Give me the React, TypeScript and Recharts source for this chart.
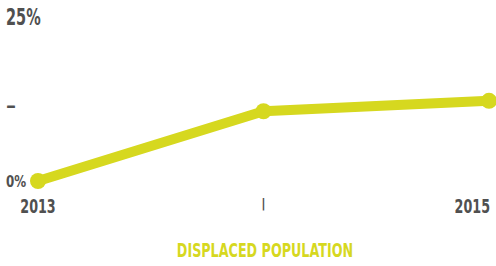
import React from "react";
import { LineChart, Line, XAxis, YAxis } from "recharts";

const years = [2013, 2014, 2015];
const yearLabels = ["2013", "|", "2015"];
const displacedPct = [0, 10.7, 12.3];
const yTicks = [0, 11.4, 25];
const yTickLabels = ["0%", "–", "25%"];
const title = "DISPLACED POPULATION";

const data = years.map((y, i) => ({ year: y, value: displacedPct[i] }));

const LIME = "#d6d81f";
const GREY = "#505050";
const FONT = "'DejaVu Sans', sans-serif";

const YTick = (props: any) => {
  const { y, payload } = props;
  const i = yTicks.indexOf(payload.value);
  const label = yTickLabels[i];
  let size = 16.5, sx = 0.72, dy = 6;
  if (label === "25%") { size = 23; sx = 0.63; dy = 7; }
  if (label === "–") { size = 20; sx = 1; dy = 5; }
  return (
    <g transform={`translate(6,${y + dy}) scale(${sx},1)`}>
      <text x={0} y={0} textAnchor="start" fill={GREY}
        fontFamily={FONT} fontWeight="bold" fontSize={size}>
        {label}
      </text>
    </g>
  );
};

const XTick = (props: any) => {
  const { x, y, payload } = props;
  const i = years.indexOf(payload.value);
  const label = yearLabels[i];
  const last = i === years.length - 1;
  const anchor = last ? "end" : "middle";
  const isBar = label === "|";
  return (
    <g transform={`translate(${last ? x + 1 : x},${y + (isBar ? 19 : 24)}) scale(${isBar ? 1 : 0.67},1)`}>
      <text x={0} y={0} textAnchor={anchor} fill={GREY}
        fontFamily={FONT} fontWeight="bold" fontSize={isBar ? 12 : 19}>
        {label}
      </text>
    </g>
  );
};

export default function App() {
  return (
    <div style={{ position: "absolute", left: 0, top: 0, width: 496, height: 266, background: "#fff" }}>
      <LineChart width={496} height={266} data={data}
        margin={{ top: 18, right: 7, left: 0, bottom: 45 }}>
        <XAxis dataKey="year" type="number" domain={[2013, 2015]} ticks={years}
          axisLine={false} tickLine={false} tick={<XTick />} height={40} interval={0} />
        <YAxis type="number" domain={[0, 25]} ticks={yTicks} width={38}
          axisLine={false} tickLine={false} tick={<YTick />} interval={0} />
        <Line dataKey="value" stroke={LIME} strokeWidth={10} strokeLinecap="round"
          strokeLinejoin="round" isAnimationActive={false}
          dot={{ r: 8, fill: LIME, stroke: "none", clipDot: false }} activeDot={false} />
      </LineChart>
      <svg width={496} height={266} style={{ position: "absolute", left: 0, top: 0, pointerEvents: "none" }}>
        <g transform="translate(265,257) scale(0.67,1)">
          <text x={0} y={0} textAnchor="middle" fill={LIME} fontFamily={FONT}
            fontWeight="bold" fontSize={19}>
            {title}
          </text>
        </g>
      </svg>
    </div>
  );
}
